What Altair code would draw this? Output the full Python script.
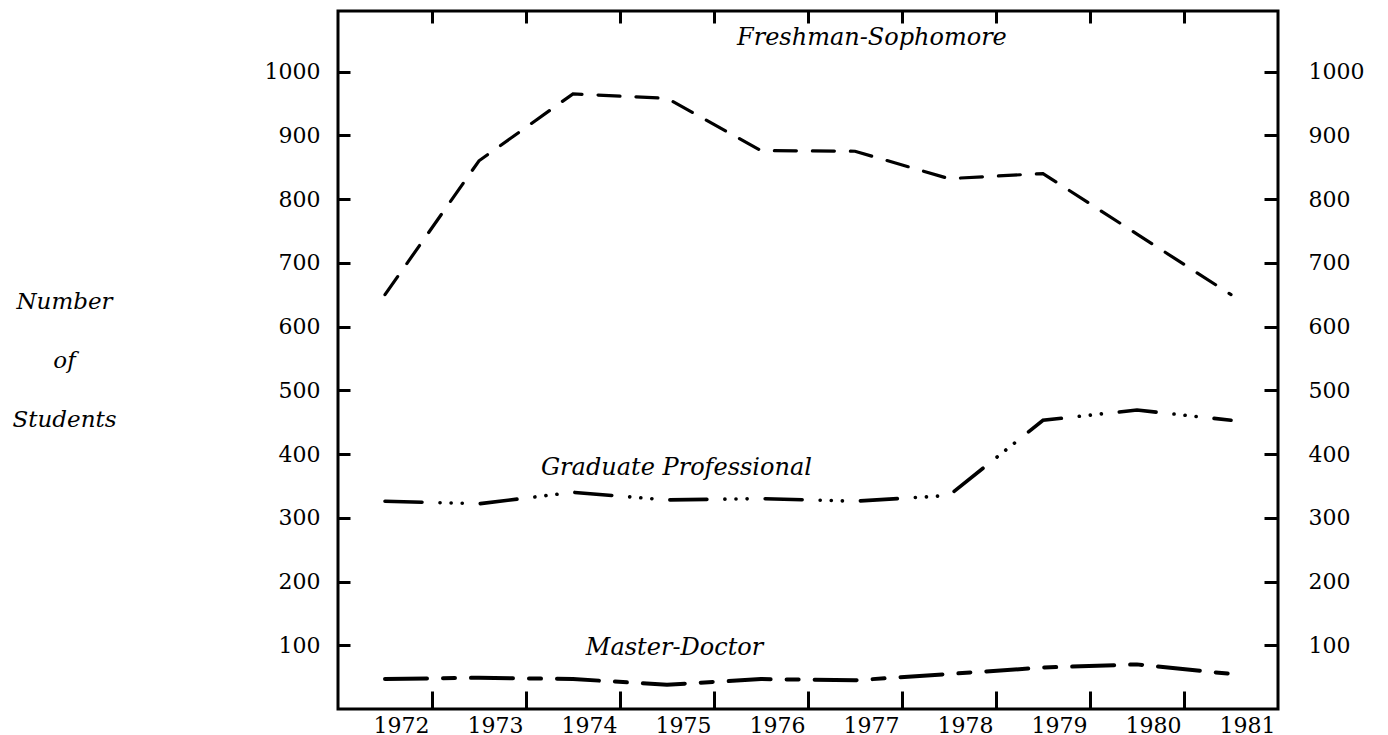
import altair as alt
import pandas as pd

# ---- data ----
years = [1972, 1973, 1974, 1975, 1976, 1977, 1978, 1979, 1980, 1981]
freshman = [650, 860, 965, 958, 876, 875, 832, 840, 745, 650]
graduate = [326, 322, 340, 328, 330, 326, 335, 453, 469, 453]
master = [47, 49, 47, 38, 47, 45, 55, 65, 70, 55]
series_names = ["Freshman-Sophomore", "Graduate Professional", "Master-Doctor"]

y_tick_values = [100, 200, 300, 400, 500, 600, 700, 800, 900, 1000]
x_tick_bounds = [1972.5, 1973.5, 1974.5, 1975.5, 1976.5, 1977.5, 1978.5, 1979.5, 1980.5]

label_text = ["Freshman-Sophomore", "Graduate  Professional", "Master-Doctor"]
label_year = [1977.18, 1975.1, 1975.08]
label_value = [1042, 367, 85]

# ---- tables ----
rows = []
for name, vals in zip(series_names, [freshman, graduate, master]):
    for yr, v in zip(years, vals):
        rows.append({"year": yr, "value": v, "series": name})
df = pd.DataFrame(rows)
labels_df = pd.DataFrame({"text": label_text, "year": label_year, "value": label_value})

FONT = "DejaVu Serif"
xscale = alt.Scale(domain=[1971.5, 1981.5], nice=False, zero=False)
yscale = alt.Scale(domain=[0, 1095], nice=False, zero=False)

dash_range = [[22, 16], [37, 18, 0.1, 11, 0.1, 11, 0.1, 18], [42, 16, 12, 16]]
width_range = [3.2, 4, 4.2]

lines = alt.Chart(df).mark_line(strokeCap="round", color="black").encode(
    x=alt.X("year:Q", scale=xscale,
            axis=alt.Axis(orient="bottom", values=years, ticks=False, domain=False,
                          grid=False, labelPadding=6, labelOffset=16, format="d", title=None,
                          labelFlush=False, labelOverlap=False)),
    y=alt.Y("value:Q", scale=yscale,
            axis=alt.Axis(orient="left", values=y_tick_values, offset=-12, tickSize=12,
                          domain=False, grid=False, labelPadding=18, labelFlush=False,
                          labelOverlap=False, format="d",
                          title=["Number", "of", "Students"], titleAngle=0,
                          titleAlign="center", titleBaseline="middle",
                          titleLineHeight=59, titleX=-286, titleY=290,
                          titleFont=FONT, titleFontStyle="italic",
                          titleFontWeight="normal", titleFontSize=23)),
    detail="series:N",
    strokeDash=alt.StrokeDash("series:N", scale=alt.Scale(domain=series_names, range=dash_range), legend=None),
    strokeWidth=alt.StrokeWidth("series:N", scale=alt.Scale(domain=series_names, range=width_range), legend=None),
)

texts = alt.Chart(labels_df).mark_text(
    font=FONT, fontStyle="italic", fontSize=24, align="center", baseline="alphabetic", color="black"
).encode(
    x=alt.X("year:Q", scale=xscale, axis=None),
    y=alt.Y("value:Q", scale=yscale, axis=None),
    text="text:N",
)

ticks_br = alt.Chart(df).mark_line(opacity=0).encode(
    x=alt.X("year:Q", scale=xscale,
            axis=alt.Axis(orient="bottom", values=x_tick_bounds, labels=False, domain=False,
                          grid=False, offset=-18, tickSize=18, title=None)),
    y=alt.Y("value:Q", scale=yscale,
            axis=alt.Axis(orient="right", values=y_tick_values, offset=-14, tickSize=14,
                          domain=False, grid=False, labelPadding=30, labelFlush=False,
                          labelOverlap=False, format="d", title=None)),
    detail="series:N",
)

ticks_top = alt.Chart(df).mark_line(opacity=0).encode(
    x=alt.X("year:Q", scale=xscale,
            axis=alt.Axis(orient="top", values=x_tick_bounds, labels=False, domain=False,
                          grid=False, offset=-12, tickSize=12, title=None)),
    y=alt.Y("value:Q", scale=yscale, axis=None),
    detail="series:N",
)

chart = alt.layer(lines, texts, ticks_br, ticks_top).resolve_axis(
    x="independent", y="independent"
).properties(
    width=940, height=698,
    background="white",
    padding={"left": 3, "top": 1, "right": 5, "bottom": 0},
).configure_view(
    stroke="black", strokeWidth=3
).configure_axis(
    labelFont=FONT, labelFontSize=22, labelColor="black",
    tickColor="black", tickWidth=3, titleColor="black",
)

chart.save("out.html", embed_options={"renderer": "svg", "actions": False})
